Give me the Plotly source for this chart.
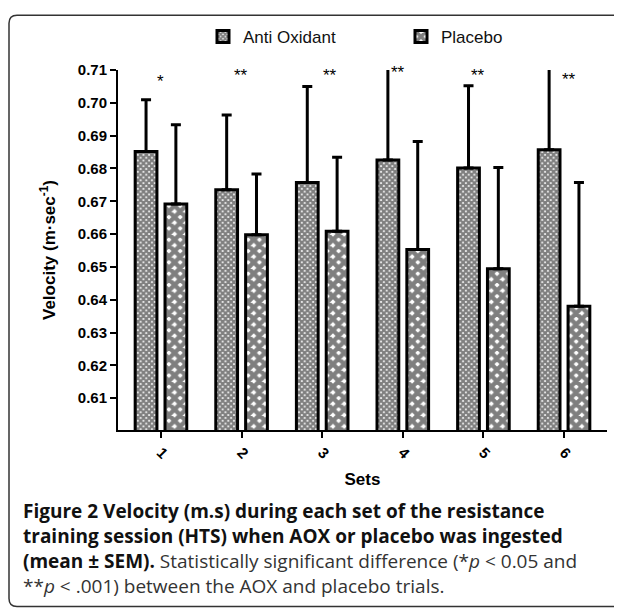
import plotly.graph_objects as go

sets = ["1", "2", "3", "4", "5", "6"]
aox_mean = [0.6852, 0.6735, 0.6757, 0.6826, 0.6801, 0.6857]
aox_sem = [0.0157, 0.0228, 0.0293, 0.0300, 0.0251, 0.0300]
pla_mean = [0.6692, 0.6598, 0.6609, 0.6553, 0.6494, 0.6380]
pla_sem = [0.0241, 0.0185, 0.0225, 0.0329, 0.0309, 0.0377]
sig_marks = ["*", "**", "**", "**", "**", "**"]
sig_y = [0.7064, 0.7082, 0.7082, 0.7091, 0.7082, 0.7070]
sig_shift = [0, -1, 8, -5, -5, 5]
yticks = [0.61, 0.62, 0.63, 0.64, 0.65, 0.66, 0.67, 0.68, 0.69, 0.70, 0.71]

# page body adds an 8px offset; figure is sized to the remaining window
OFF = 8
W, H = 622 - OFF, 609 - OFF
L, T = 118 - OFF, 69 - OFF
R = W - (607 - OFF)
B = H - (430 - OFF)
PW, PH = W - L - R, H - T - B


def px(x):
    """reference-image x pixel -> paper coordinate"""
    return (x - OFF - L) / PW


def py(y):
    """reference-image y pixel -> paper coordinate"""
    return (H - B - (y - OFF)) / PH


fig = go.Figure()
fig.add_trace(go.Bar(
    x=sets, y=aox_mean, name="Anti Oxidant",
    width=0.27, offset=-0.32,
    marker=dict(color="white", line=dict(color="black", width=3),
                pattern=dict(shape="x", size=4, solidity=0.8,
                             fgcolor="black", bgcolor="white", fillmode="overlay")),
    error_y=dict(type="data", symmetric=False, array=aox_sem,
                 arrayminus=[0] * 6, color="black", thickness=3, width=5),
))
fig.add_trace(go.Bar(
    x=sets, y=pla_mean, name="Placebo",
    width=0.27, offset=0.05,
    marker=dict(color="white", line=dict(color="black", width=3),
                pattern=dict(shape="x", size=8, solidity=0.8,
                             fgcolor="black", bgcolor="white", fillmode="overlay")),
    error_y=dict(type="data", symmetric=False, array=pla_sem,
                 arrayminus=[0] * 6, color="black", thickness=3, width=5),
))

annotations = []
for i, (m, yv, sh) in enumerate(zip(sig_marks, sig_y, sig_shift)):
    annotations.append(dict(x=i, y=yv, xref="x", yref="y", text=m, showarrow=False,
                            xshift=sh, font=dict(family="Liberation Sans", size=17, color="black")))

cap_font = dict(family="Open Sans", size=19, color="#111")
caption = [
    ("<b>Figure 2 Velocity (m.s) during each set of the resistance</b>", 511),
    ("<b>training session (HTS) when AOX or placebo was ingested</b>", 536),
    ("<b>(mean ± SEM).</b><span style='color:#333'> Statistically significant difference (*<i>p</i> &lt; 0.05 and</span>", 561),
    ("<span style='color:#333'>**<i>p</i> &lt; .001) between the AOX and placebo trials.</span>", 586),
]
for txt, yy in caption:
    annotations.append(dict(x=px(21), y=py(yy), xref="paper", yref="paper", text=txt,
                            showarrow=False, xanchor="left", yanchor="middle", align="left",
                            font=cap_font))

border = (f"M {px(640)},{py(14)} L {px(17)},{py(14)} Q {px(9)},{py(14)} {px(9)},{py(22)} "
          f"L {px(9)},{py(599)} Q {px(9)},{py(607)} {px(17)},{py(607)} L {px(640)},{py(607)}")

fig.update_layout(
    width=W, height=H,
    margin=dict(l=L, r=R, t=T, b=B),
    paper_bgcolor="white", plot_bgcolor="white",
    barmode="overlay",
    showlegend=True,
    legend=dict(orientation="h", x=px(203), y=py(37), xanchor="left", yanchor="middle",
                font=dict(family="Liberation Sans", size=17, color="#111"),
                entrywidth=153, entrywidthmode="pixels", bgcolor="rgba(0,0,0,0)"),
    xaxis=dict(type="category", range=[-0.533, 5.533], showline=True, linecolor="black",
               linewidth=2, ticks="outside", ticklen=6, tickwidth=2, tickcolor="black",
               tickangle=45, showgrid=False, zeroline=False,
               tickfont=dict(family="Liberation Sans", size=15, color="black", weight="bold"),
               title=dict(text="<b>Sets</b>", font=dict(family="Liberation Sans", size=17, color="black"),
                          standoff=12)),
    yaxis=dict(range=[0.6003, 0.71], showline=True, linecolor="black", linewidth=2,
               ticks="outside", ticklen=6, tickwidth=2, tickcolor="black",
               tickvals=yticks, ticktext=[f"{v:.2f}" for v in yticks],
               showgrid=False, zeroline=False,
               tickfont=dict(family="Liberation Sans", size=15, color="black", weight="bold"),
               title=dict(text="<b>Velocity (m·sec<sup>-1</sup>)</b>",
                          font=dict(family="Liberation Sans", size=17, color="black"),
                          standoff=18)),
    annotations=annotations,
    shapes=[dict(type="path", path=border, xref="paper", yref="paper",
                 line=dict(color="#333", width=1.5))],
)

fig.write_html("out.html")
